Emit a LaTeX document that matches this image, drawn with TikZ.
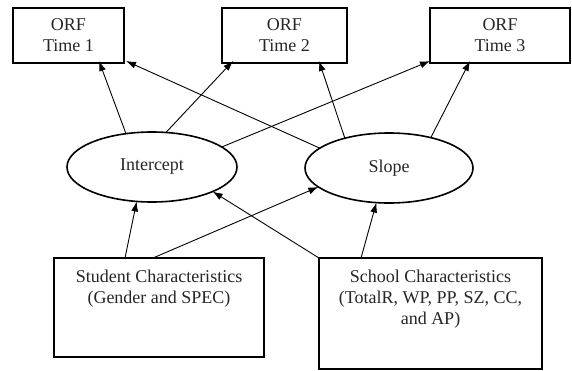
\documentclass[tikz,border=0pt]{standalone}
\usepackage{fontspec}
\setmainfont{Liberation Serif}
\usetikzlibrary{shapes.geometric,arrows.meta}
\begin{document}
\begin{tikzpicture}[x=1pt,y=-1pt,
  every node/.style={font=\fontsize{18}{21}\selectfont, text=black!85},
  obox/.style={draw, line width=1.6pt, inner sep=0pt, outer sep=0pt, minimum height=55pt, align=center},
  lat/.style={draw, ellipse, line width=1.6pt, inner sep=0pt, outer sep=0pt, minimum width=#1, minimum height=70pt},
  pbox/.style={draw, line width=1.6pt, inner sep=0pt, outer sep=0pt},
  arr/.style={-{Latex[length=10pt,width=7pt]}, line width=0.9pt}
]
\useasboundingbox (0,0) rectangle (572,370);

\node[obox, minimum width=111pt] (t1) at (68.5,35.5) {ORF\\Time 1};
\node[obox, minimum width=125pt] (t2) at (284.5,35.5) {ORF\\Time 2};
\node[obox, minimum width=140pt] (t3) at (500,35.5) {ORF\\Time 3};

\node[lat=170pt] (int) at (152,167) {Intercept};
\node[lat=168pt] (slp) at (389,168) {Slope};

\node[pbox, minimum width=210pt, minimum height=99pt] (stu) at (159,307.5) {};
\node[anchor=north, align=center, inner sep=0pt] (stut) at ([yshift=-12pt]stu.north) {Student Characteristics\\(Gender and SPEC)};
\node[pbox, minimum width=223pt, minimum height=111pt] (sch) at (430.5,313.5) {};
\node[anchor=north, align=center, inner sep=0pt] (scht) at ([yshift=-12pt]sch.north) {School Characteristics\\(TotalR, WP, PP, SZ, CC,\\and AP)};

% latent to outcomes
\draw[arr] (int.128) -- ([xshift=30.5pt,yshift=2pt]t1.south);
\draw[arr] (int.68) -- ([xshift=-51.5pt,yshift=2pt]t2.south);
\draw[arr] (int.16) -- ([yshift=2pt]t3.south west);
\draw[arr] (slp.164) -- ([xshift=2pt,yshift=2pt]t1.south east);
\draw[arr] (slp.146) -- ([xshift=34.5pt,yshift=2pt]t2.south);
\draw[arr] (slp.36) -- ([xshift=-30pt,yshift=2pt]t3.south);

% predictors to latent
\draw[arr] ([xshift=-34pt]stu.north) -- (int.246);
\draw[arr] ([xshift=-6pt]stu.north) -- (slp.195);
\draw[arr] (sch.north west) -- (int.338);
\draw[arr] ([xshift=-69.5pt]sch.north) -- (slp.250);
\end{tikzpicture}
\end{document}
